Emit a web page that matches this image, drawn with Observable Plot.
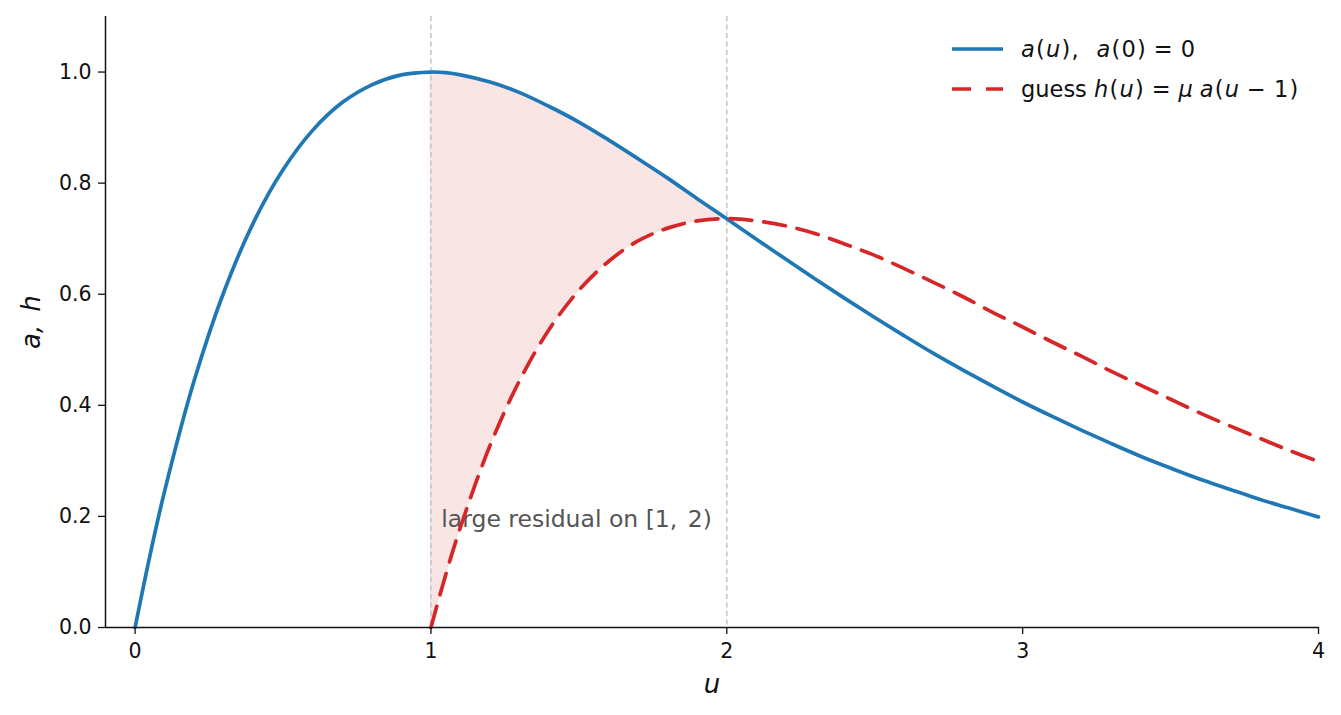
<!DOCTYPE html>
<html>
<head>
<meta charset="utf-8">
<script src="https://cdn.jsdelivr.net/npm/d3@7"></script>
<script src="https://cdn.jsdelivr.net/npm/@observablehq/plot@0.6"></script>
<style>
  html, body { margin: 0; padding: 0; background: #fff; }
  #wrap { position: relative; width: 1341px; height: 715px; font-family: "DejaVu Sans", sans-serif; }
  #legend { position: absolute; left: 950px; top: 29px; font-size: 22.5px; color: #111; }
  .row { display: flex; align-items: center; height: 40px; }
  .row svg { margin-right: 17px; }
  .m { letter-spacing: 1.2px; }
  i { font-style: italic; }
</style>
</head>
<body>
<div id="wrap">
  <div id="chart"></div>
  <div id="legend">
    <div class="row"><svg width="54" height="10"><line x1="2" y1="5" x2="53" y2="5" stroke="#1f77b4" stroke-width="3.7"/></svg><span class="m"><i>a</i>(<i>u</i>),&nbsp;&nbsp;<i>a</i>(0)&#8197;=&#8197;0</span></div>
    <div class="row"><svg width="54" height="10"><line x1="2" y1="5" x2="53" y2="5" stroke="#d62728" stroke-width="3.7" stroke-dasharray="19,15"/></svg><span>guess&nbsp;<span class="m"><i>h</i>(<i>u</i>)&#8197;=&#8197;<i>μ</i>&thinsp;<i>a</i>(<i>u</i>&#8197;−&#8197;1)</span></span></div>
  </div>
</div>
<script>
// u grid and a(u)
const uA = [0, 0.05, 0.1, 0.2, 0.3, 0.4, 0.5, 0.6, 0.7, 0.8, 0.9, 1.0, 1.05, 1.1, 1.2, 1.3, 1.4, 1.5, 1.6, 1.7, 1.8, 1.9, 2.0,
            2.1, 2.2, 2.3, 2.4, 2.5, 2.6, 2.7, 2.8, 2.9, 3.0, 3.1, 3.2, 3.3, 3.4, 3.5, 3.6, 3.7, 3.8, 3.9, 4.0];
const aVals = [0, 0.129, 0.246, 0.445, 0.604, 0.729, 0.824, 0.895, 0.945, 0.977, 0.995, 1.000, 0.999, 0.995, 0.982, 0.963, 0.938, 0.910, 0.878, 0.844, 0.809, 0.772, 0.736,
               0.699, 0.663, 0.627, 0.592, 0.558, 0.525, 0.493, 0.463, 0.434, 0.406, 0.380, 0.355, 0.331, 0.308, 0.287, 0.267, 0.249, 0.231, 0.215, 0.199];
// u grid and h(u)
const uH = [1.0, 1.05, 1.1, 1.2, 1.3, 1.4, 1.5, 1.6, 1.7, 1.8, 1.9, 2.0,
            2.1, 2.2, 2.3, 2.4, 2.5, 2.6, 2.7, 2.8, 2.9, 3.0, 3.1, 3.2, 3.3, 3.4, 3.5, 3.6, 3.7, 3.8, 3.9, 4.0];
const hVals = [0, 0.095, 0.181, 0.328, 0.445, 0.537, 0.607, 0.659, 0.696, 0.719, 0.732, 0.736,
               0.732, 0.723, 0.709, 0.690, 0.670, 0.646, 0.621, 0.595, 0.567, 0.541, 0.514, 0.488, 0.461, 0.436, 0.411, 0.386, 0.363, 0.341, 0.319, 0.299];
const xTicks = [0, 1, 2, 3, 4];
const yTicks = [0, 0.2, 0.4, 0.6, 0.8, 1.0];
const vLines = [1, 2];
const annotation = [{u: 1.035, v: 0.194, text: "large residual on [1,\u2005\u20092)"}];

const aData = uA.map((u, i) => ({u, v: aVals[i]}));
const hData = uH.map((u, i) => ({u, v: hVals[i]}));
const shade = uH.map((u, i) => ({u, h: hVals[i], a: aVals[uA.indexOf(u)]})).filter(d => d.u <= 2);

const chart = Plot.plot({
  width: 1341,
  height: 715,
  marginLeft: 105,
  marginRight: 23,
  marginTop: 16,
  marginBottom: 88,
  style: {fontFamily: "DejaVu Sans, sans-serif", fontSize: "20px", color: "#111", background: "#fff"},
  x: {domain: [-0.1, 4], label: null},
  y: {domain: [0, 1.1], label: null},
  marks: [
    Plot.areaY(shade, {x: "u", y1: "h", y2: "a", fill: "#d62728", fillOpacity: 0.12, stroke: "#d62728", strokeOpacity: 0.1, curve: "catmull-rom"}),
    Plot.ruleX(vLines, {stroke: "#c4c4c4", strokeWidth: 1.5, strokeDasharray: "5,3.5"}),
    Plot.text(annotation, {x: "u", y: "v", text: "text", textAnchor: "start", fill: "#555", fontSize: 23.5}),
    Plot.line(aData, {x: "u", y: "v", stroke: "#1f77b4", strokeWidth: 3.7, curve: "catmull-rom"}),
    Plot.line(hData, {x: "u", y: "v", stroke: "#d62728", strokeWidth: 3.7, strokeDasharray: "22,12", curve: "catmull-rom"}),
    Plot.axisX({ticks: xTicks, tickSize: 7, tickPadding: 9, tickFormat: d3.format("d"), stroke: "#111", fill: "#111", fontSize: 20.5, strokeWidth: 1.3}),
    Plot.axisY({ticks: yTicks, tickSize: 7, tickPadding: 7, tickFormat: d3.format(".1f"), stroke: "#111", fill: "#111", fontSize: 20.5, strokeWidth: 1.3}),
    Plot.ruleX([-0.1], {stroke: "#111", strokeWidth: 1.5}),
    Plot.ruleY([0], {stroke: "#111", strokeWidth: 1.5}),
    Plot.text(["u"], {frameAnchor: "bottom", dy: 65, fontSize: 26, fontStyle: "italic", fill: "#111"}),
    Plot.text(["a,\u2002h"], {frameAnchor: "left", dx: -74, dy: 27, rotate: -90, fontSize: 26, fontStyle: "italic", fill: "#111"})
  ]
});
document.getElementById("chart").appendChild(chart);
</script>
</body>
</html>
